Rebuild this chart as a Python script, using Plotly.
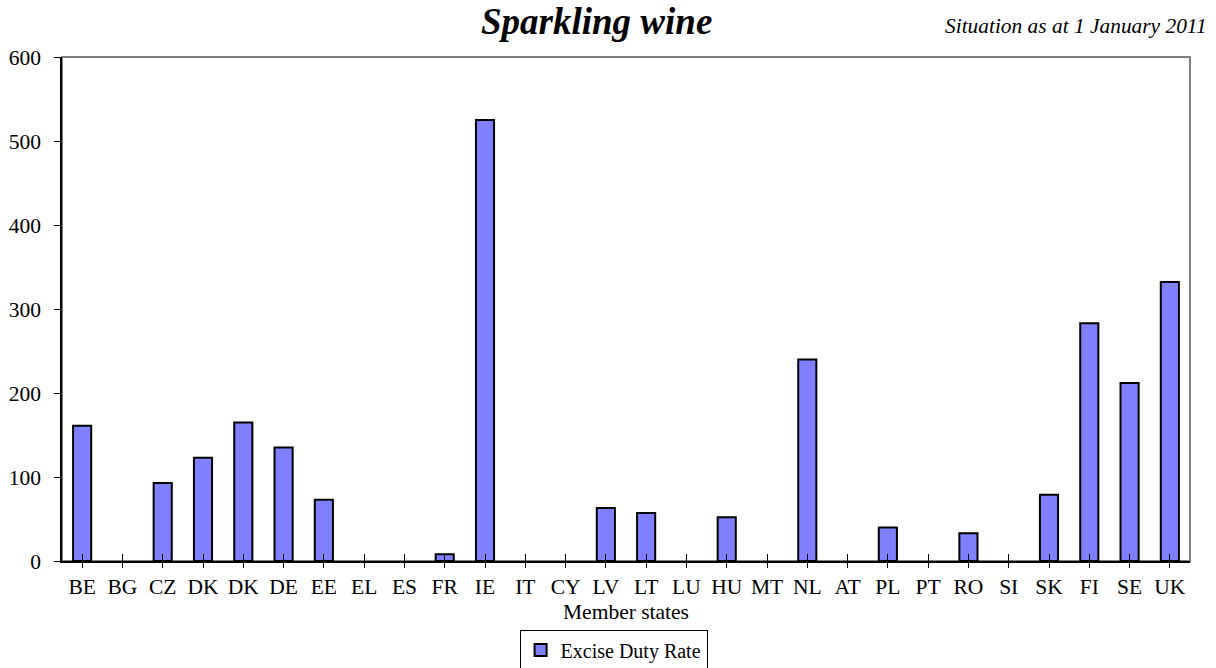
import plotly.graph_objects as go

countries = ["BE","BG","CZ","DK","DK","DE","EE","EL","ES","FR","IE","IT","CY","LV","LT","LU",
             "HU","MT","NL","AT","PL","PT","RO","SI","SK","FI","SE","UK"]
rates = [161, 0, 93, 123, 165, 135, 73, 0, 0, 8, 525, 0, 0, 63, 57, 0,
         52, 0, 240, 0, 40, 0, 33, 0, 79, 283, 212, 332]
y_ticks = [0, 100, 200, 300, 400, 500, 600]

# unique category keys so duplicated labels (DK) keep separate slots
keys = list(range(len(countries)))
# zero rates draw no bar at all
bar_y = [v if v else None for v in rates]

FONT = "Liberation Serif, Times New Roman, serif"
TICK = 21.5

fig = go.Figure()
fig.add_trace(go.Bar(
    x=keys, y=bar_y, name="Excise Duty Rate",
    marker=dict(color="#8080FF", line=dict(color="black", width=2)),
    width=0.45,
))
# helper trace so the overlay axis (inner half of crossing ticks) is drawn
fig.add_trace(go.Scatter(x=[None], y=[None], xaxis="x2", showlegend=False,
                         hoverinfo="skip", mode="markers"))

fig.update_layout(
    width=1216, height=668,
    margin=dict(l=62, r=26, t=57, b=107, autoexpand=False),
    paper_bgcolor="white", plot_bgcolor="white",
    font=dict(family=FONT, size=TICK, color="black"),
    showlegend=True,
    legend=dict(orientation="h", x=0.489, xanchor="center", y=-0.1766, yanchor="middle",
                bordercolor="black", borderwidth=1, font=dict(size=20),
                itemwidth=30, tracegroupgap=0, bgcolor="white"),
    xaxis=dict(
        tickmode="array", tickvals=keys, ticktext=countries,
        range=[-0.5, len(keys) - 0.5],
        showline=True, linecolor="black", linewidth=1.5,
        ticks="outside", ticklen=5, tickcolor="black", tickwidth=1, tickson="boundaries",
        showgrid=False, zeroline=False,
        title=dict(text="Member states", standoff=6, font=dict(size=TICK)),
        tickfont=dict(size=TICK),
    ),
    xaxis2=dict(
        overlaying="x", matches="x", side="bottom",
        tickmode="array", tickvals=keys, ticktext=[""] * len(keys),
        ticks="inside", ticklen=7, tickcolor="black", tickwidth=1, tickson="boundaries",
        showline=False, showgrid=False, zeroline=False, showticklabels=False,
    ),
    yaxis=dict(
        range=[0, 600], tickvals=y_ticks,
        showline=True, linecolor="black", linewidth=1.5,
        ticks="outside", ticklen=6, tickcolor="black",
        ticklabelstandoff=9,
        showgrid=False, zeroline=False,
        tickfont=dict(size=TICK),
    ),
    shapes=[dict(type="rect", xref="paper", yref="paper", x0=0, x1=1, y0=0, y1=1,
                 line=dict(color="#808080", width=2), layer="below")],
    annotations=[
        dict(text="<b><i>Sparkling wine</i></b>", xref="paper", yref="paper",
             x=0.474, y=1.0705, xanchor="center", yanchor="middle",
             showarrow=False, font=dict(size=37, family=FONT)),
        dict(text="<i>Situation as at 1 January 2011</i>", xref="paper", yref="paper",
             x=1.0, xshift=19, y=1.0615, xanchor="right", yanchor="middle",
             showarrow=False, font=dict(size=21.4, family=FONT)),
    ],
)

# remove the default 8px page margin so the figure sits at the window's corner
fig.write_html("out.html", config={"displayModeBar": False},
               post_script="document.body.style.margin='0';")
